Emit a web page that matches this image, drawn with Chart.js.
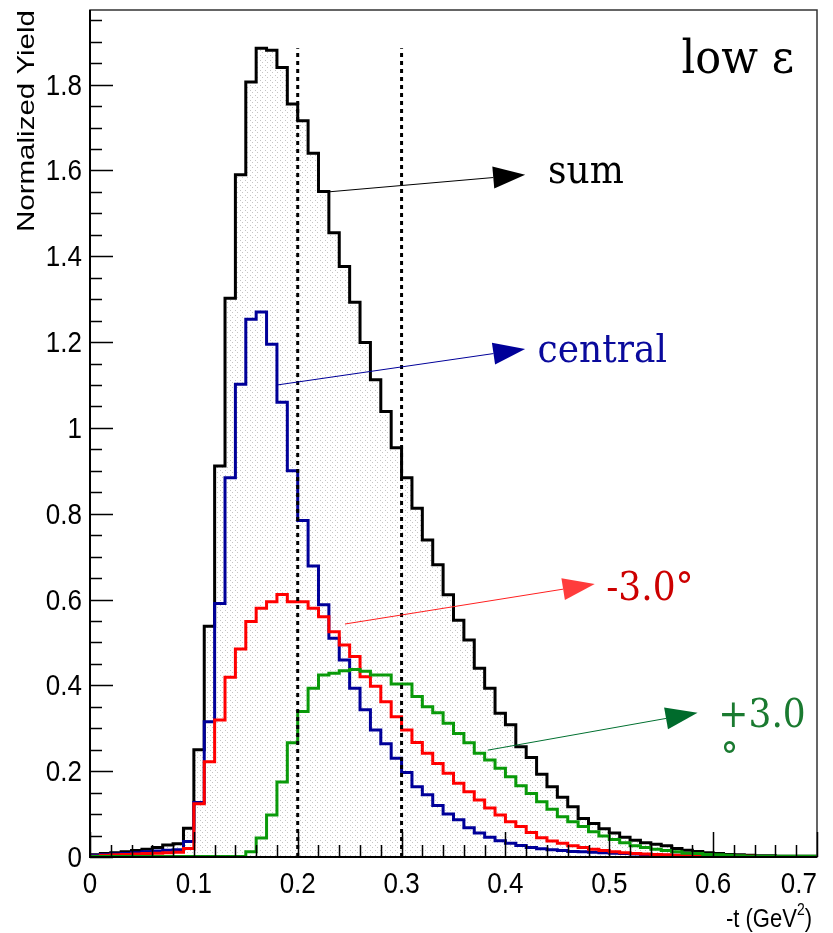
<!DOCTYPE html>
<html>
<head>
<meta charset="utf-8">
<script src="https://cdn.jsdelivr.net/npm/chart.js@4.4.1/dist/chart.umd.min.js"></script>
<style>
  html, body { margin: 0; padding: 0; background: #fff; }
  #wrap { width: 833px; height: 933px; }
</style>
</head>
<body>
<div id="wrap"><canvas id="yieldChart" width="833" height="933"></canvas></div>
<script>
// -t binning: 70 bins of 0.01 GeV^2 starting at 0
const tMin = 0;
const binWidth = 0.01;

const sumYield = [0.005,0.008,0.010,0.012,0.015,0.018,0.022,0.028,0.031,0.067,
  0.250,0.538,0.911,1.302,1.590,1.806,1.885,1.880,1.840,1.755,
  1.716,1.640,1.551,1.455,1.376,1.293,1.199,1.112,1.038,0.954,
  0.884,0.813,0.739,0.681,0.611,0.552,0.506,0.440,0.393,0.335,
  0.308,0.257,0.232,0.193,0.164,0.139,0.117,0.090,0.078,0.066,
  0.056,0.046,0.039,0.033,0.030,0.026,0.020,0.016,0.013,0.010,
  0.008,0.006,0.005,0.004,0.003,0.003,0.002,0.002,0.002,0.002];

const centralYield = [0.004,0.006,0.007,0.008,0.010,0.012,0.014,0.016,0.017,0.036,
  0.127,0.315,0.591,0.884,1.102,1.253,1.270,1.195,1.060,0.900,
  0.784,0.678,0.588,0.510,0.459,0.393,0.343,0.296,0.264,0.230,
  0.197,0.164,0.145,0.120,0.100,0.087,0.068,0.056,0.046,0.038,
  0.032,0.027,0.022,0.019,0.017,0.015,0.013,0.012,0.011,0.010,
  0.009,0.008,0.007,0.006,0.005,0.004,0.004,0.003,0.002,0.002,
  0.001,0,0,0,0,0,0,0,0,0];

const minus3Yield = [0.002,0.004,0.005,0.006,0.007,0.008,0.009,0.010,0.011,0.020,
  0.124,0.222,0.319,0.419,0.485,0.549,0.580,0.595,0.612,0.595,
  0.595,0.580,0.560,0.525,0.494,0.467,0.420,0.398,0.362,0.327,
  0.296,0.267,0.242,0.218,0.195,0.172,0.152,0.133,0.114,0.098,
  0.082,0.071,0.057,0.045,0.037,0.032,0.026,0.022,0.018,0.015,
  0.012,0.010,0.008,0.007,0.006,0.005,0.004,0.004,0.003,0.003,
  0.003,0.002,0.002,0.002,0,0,0,0,0,0];

const plus3Yield = [0.001,0.001,0.001,0.001,0.001,0.001,0.001,0.001,0.001,0.001,
  0.001,0.001,0.001,0.001,0.001,0.012,0.044,0.098,0.175,0.266,
  0.339,0.393,0.424,0.428,0.434,0.437,0.433,0.424,0.424,0.403,
  0.403,0.374,0.350,0.336,0.312,0.288,0.266,0.242,0.226,0.207,
  0.187,0.166,0.148,0.129,0.111,0.094,0.082,0.071,0.059,0.049,
  0.041,0.033,0.026,0.022,0.018,0.015,0.012,0.009,0.008,0.006,
  0.005,0.004,0.003,0.002,0.002,0.002,0.002,0.002,0.002,0.002];

// dotted cut lines
const cutValues = [0.2, 0.3];
const cutHeight = 1.885;

const xTickValues = [0, 0.1, 0.2, 0.3, 0.4, 0.5, 0.6, 0.7];
const xTickLabels = ['0', '0.1', '0.2', '0.3', '0.4', '0.5', '0.6', '0.7'];
const yTickValues = [0, 0.2, 0.4, 0.6, 0.8, 1, 1.2, 1.4, 1.6, 1.8];
const yTickLabels = ['0', '0.2', '0.4', '0.6', '0.8', '1', '1.2', '1.4', '1.6', '1.8'];

function toSteps(values) {
    const pts = values.map((v, i) => ({ x: tMin + i * binWidth, y: v }));
    pts.push({ x: tMin + values.length * binWidth, y: values[values.length - 1] });
    return pts;
}

// ROOT-like dotted fill
function dotPattern() {
    const c = document.createElement('canvas');
    c.width = 5; c.height = 5;
    const g = c.getContext('2d');
    g.fillStyle = '#ffffff';
    g.fillRect(0, 0, 5, 5);
    g.fillStyle = '#c4c4c4';
    g.fillRect(0, 0, 1, 1);
    g.fillRect(2, 2, 1, 1);
    return g.createPattern(c, 'repeat');
}

function stretchText(ctx, text, x, y, font, color, align, sy) {
    ctx.save();
    ctx.translate(x, y);
    ctx.scale(1, sy);
    ctx.font = font;
    ctx.fillStyle = color;
    ctx.textAlign = align;
    ctx.textBaseline = 'alphabetic';
    ctx.fillText(text, 0, 0);
    ctx.restore();
}

function arrow(ctx, x0, y0, x1, y1, lineColor, headColor) {
    const ang = Math.atan2(y1 - y0, x1 - x0);
    const hl = 32, hw = 11;
    const bx = x1 - hl * Math.cos(ang), by = y1 - hl * Math.sin(ang);
    ctx.save();
    ctx.strokeStyle = lineColor;
    ctx.lineWidth = 1;
    ctx.beginPath();
    ctx.moveTo(x0, y0);
    ctx.lineTo(bx, by);
    ctx.stroke();
    ctx.fillStyle = headColor;
    ctx.beginPath();
    ctx.moveTo(x1, y1);
    ctx.lineTo(bx - hw * Math.sin(ang), by + hw * Math.cos(ang));
    ctx.lineTo(bx + hw * Math.sin(ang), by - hw * Math.cos(ang));
    ctx.closePath();
    ctx.fill();
    ctx.restore();
}

// labels with arrows, in data units
const notes = [
    { text: 'sum', from: [0.229, 1.550], to: [0.419, 1.590], at: [0.441, 1.571], line: '#000000', head: '#000000', color: '#000000' },
    { text: 'central', from: [0.180, 1.100], to: [0.419, 1.184], at: [0.431, 1.154], line: '#000099', head: '#000099', color: '#0a0a9c' },
    { text: '-3.0°', from: [0.2455, 0.543], to: [0.486, 0.636], at: [0.497, 0.599], line: '#ff2020', head: '#ff3c3c', color: '#cc0000' },
    { text: '+3.0', from: [0.383, 0.249], to: [0.585, 0.336], at: [0.605, 0.303], line: '#007030', head: '#006b2c', color: '#1a7a30' }
];

const decorations = {
    id: 'decorations',
    afterDatasetsDraw(chart) {
        const ctx = chart.ctx;
        const xs = chart.scales.x, ys = chart.scales.y;
        const a = chart.chartArea;

        // frame
        ctx.save();
        ctx.strokeStyle = '#333333';
        ctx.lineWidth = 1.5;
        ctx.strokeRect(a.left, a.top, a.right - a.left, a.bottom - a.top);
        ctx.strokeStyle = '#000000';
        ctx.lineWidth = 2;
        ctx.beginPath();
        ctx.moveTo(a.left, a.top);
        ctx.lineTo(a.left, a.bottom);
        ctx.lineTo(a.right, a.bottom);
        ctx.stroke();

        // ticks pointing inward
        ctx.lineWidth = 1.5;
        ctx.beginPath();
        for (let k = 0; k <= 35; k++) {
            const px = Math.round(xs.getPixelForValue(k * 0.02)) + 0.5;
            const len = (k % 5 === 0) ? 25 : 12;
            ctx.moveTo(px, a.bottom);
            ctx.lineTo(px, a.bottom - len);
        }
        for (let k = 0; k <= 39; k++) {
            const py = Math.round(ys.getPixelForValue(k * 0.05)) + 0.5;
            if (py < a.top) break;
            const len = (k % 4 === 0) ? 23 : 12;
            ctx.moveTo(a.left, py);
            ctx.lineTo(a.left + len, py);
        }
        ctx.stroke();
        ctx.restore();

        // tick labels
        const tickFont = '26px "Liberation Sans", Arial, sans-serif';
        xTickValues.forEach((v, i) => {
            let px = xs.getPixelForValue(v);
            ctx.save();
            ctx.font = tickFont;
            const w = ctx.measureText(xTickLabels[i]).width;
            ctx.restore();
            if (px + w / 2 > chart.width - 16) px = chart.width - 16 - w / 2;
            stretchText(ctx, xTickLabels[i], px, a.bottom + 36, tickFont, '#000', 'center', 1.12);
        });
        yTickValues.forEach((v, i) => {
            const py = ys.getPixelForValue(v);
            stretchText(ctx, yTickLabels[i], a.left - 8, py + 10, tickFont, '#000', 'right', 1.12);
        });

        // axis titles
        ctx.save();
        ctx.font = '22px "Liberation Sans", Arial, sans-serif';
        ctx.fillStyle = '#000';
        const tx = a.right - 5;
        const ty = a.bottom + 70;
        ctx.textAlign = 'right';
        ctx.translate(tx, ty);
        ctx.scale(1, 1.18);
        ctx.fillText(')', 0, 0);
        const wParen = ctx.measureText(')').width;
        ctx.font = '14px "Liberation Sans", Arial, sans-serif';
        const wSup = ctx.measureText('2').width;
        ctx.fillText('2', -wParen, -10);
        ctx.font = '22px "Liberation Sans", Arial, sans-serif';
        ctx.fillText('-t (GeV', -wParen - wSup, 0);
        ctx.restore();

        ctx.save();
        ctx.translate(34, a.top);
        ctx.rotate(-Math.PI / 2);
        ctx.scale(1.23, 1);
        ctx.font = '24px "Liberation Sans", Arial, sans-serif';
        ctx.fillStyle = '#000';
        ctx.textAlign = 'right';
        ctx.textBaseline = 'alphabetic';
        ctx.fillText('Normalized Yield', 0, 0);
        ctx.restore();

        // annotations
        const serif = '36px "DejaVu Serif", serif';
        notes.forEach(n => {
            arrow(ctx,
                xs.getPixelForValue(n.from[0]), ys.getPixelForValue(n.from[1]),
                xs.getPixelForValue(n.to[0]), ys.getPixelForValue(n.to[1]),
                n.line, n.head);
            stretchText(ctx, n.text, xs.getPixelForValue(n.at[0]), ys.getPixelForValue(n.at[1]), serif, n.color, 'left', 1.1);
        });
        stretchText(ctx, '°', xs.getPixelForValue(0.607), ys.getPixelForValue(0.203), serif, '#1a7a30', 'left', 1.1);
        stretchText(ctx, 'low ε', xs.getPixelForValue(0.5696), ys.getPixelForValue(1.827), '43px "DejaVu Serif", serif', '#000', 'left', 1.1);
    }
};

const histLine = (label, values, color, order, extra) => Object.assign({
    label: label,
    data: toSteps(values),
    borderColor: color,
    borderWidth: 3,
    stepped: 'before',
    pointRadius: 0,
    fill: false,
    order: order
}, extra || {});

const canvas = document.getElementById('yieldChart');
const ctx = canvas.getContext('2d');

const datasets = [
    histLine('sum', sumYield, '#000000', 5, { fill: 'origin', backgroundColor: dotPattern() }),
    histLine('central', centralYield, '#000099', 4),
    histLine('-3.0°', minus3Yield, '#ff0000', 3),
    histLine('+3.0°', plus3Yield, '#0a9a0a', 2)
];
cutValues.forEach(c => {
    datasets.push({
        label: 'cut ' + c,
        data: [{ x: c, y: 0 }, { x: c, y: cutHeight }],
        borderColor: '#000000',
        borderWidth: 3,
        borderDash: [4, 4],
        pointRadius: 0,
        fill: false,
        order: 1
    });
});

new Chart(ctx, {
    type: 'line',
    data: { datasets: datasets },
    options: {
        responsive: false,
        animation: false,
        layout: { padding: { left: 90, right: 16, top: 10, bottom: 76 } },
        plugins: { legend: { display: false }, tooltip: { enabled: false } },
        scales: {
            x: { type: 'linear', min: 0, max: 0.7, display: false },
            y: { type: 'linear', min: 0, max: 1.974, display: false }
        }
    },
    plugins: [decorations]
});
</script>
</body>
</html>
